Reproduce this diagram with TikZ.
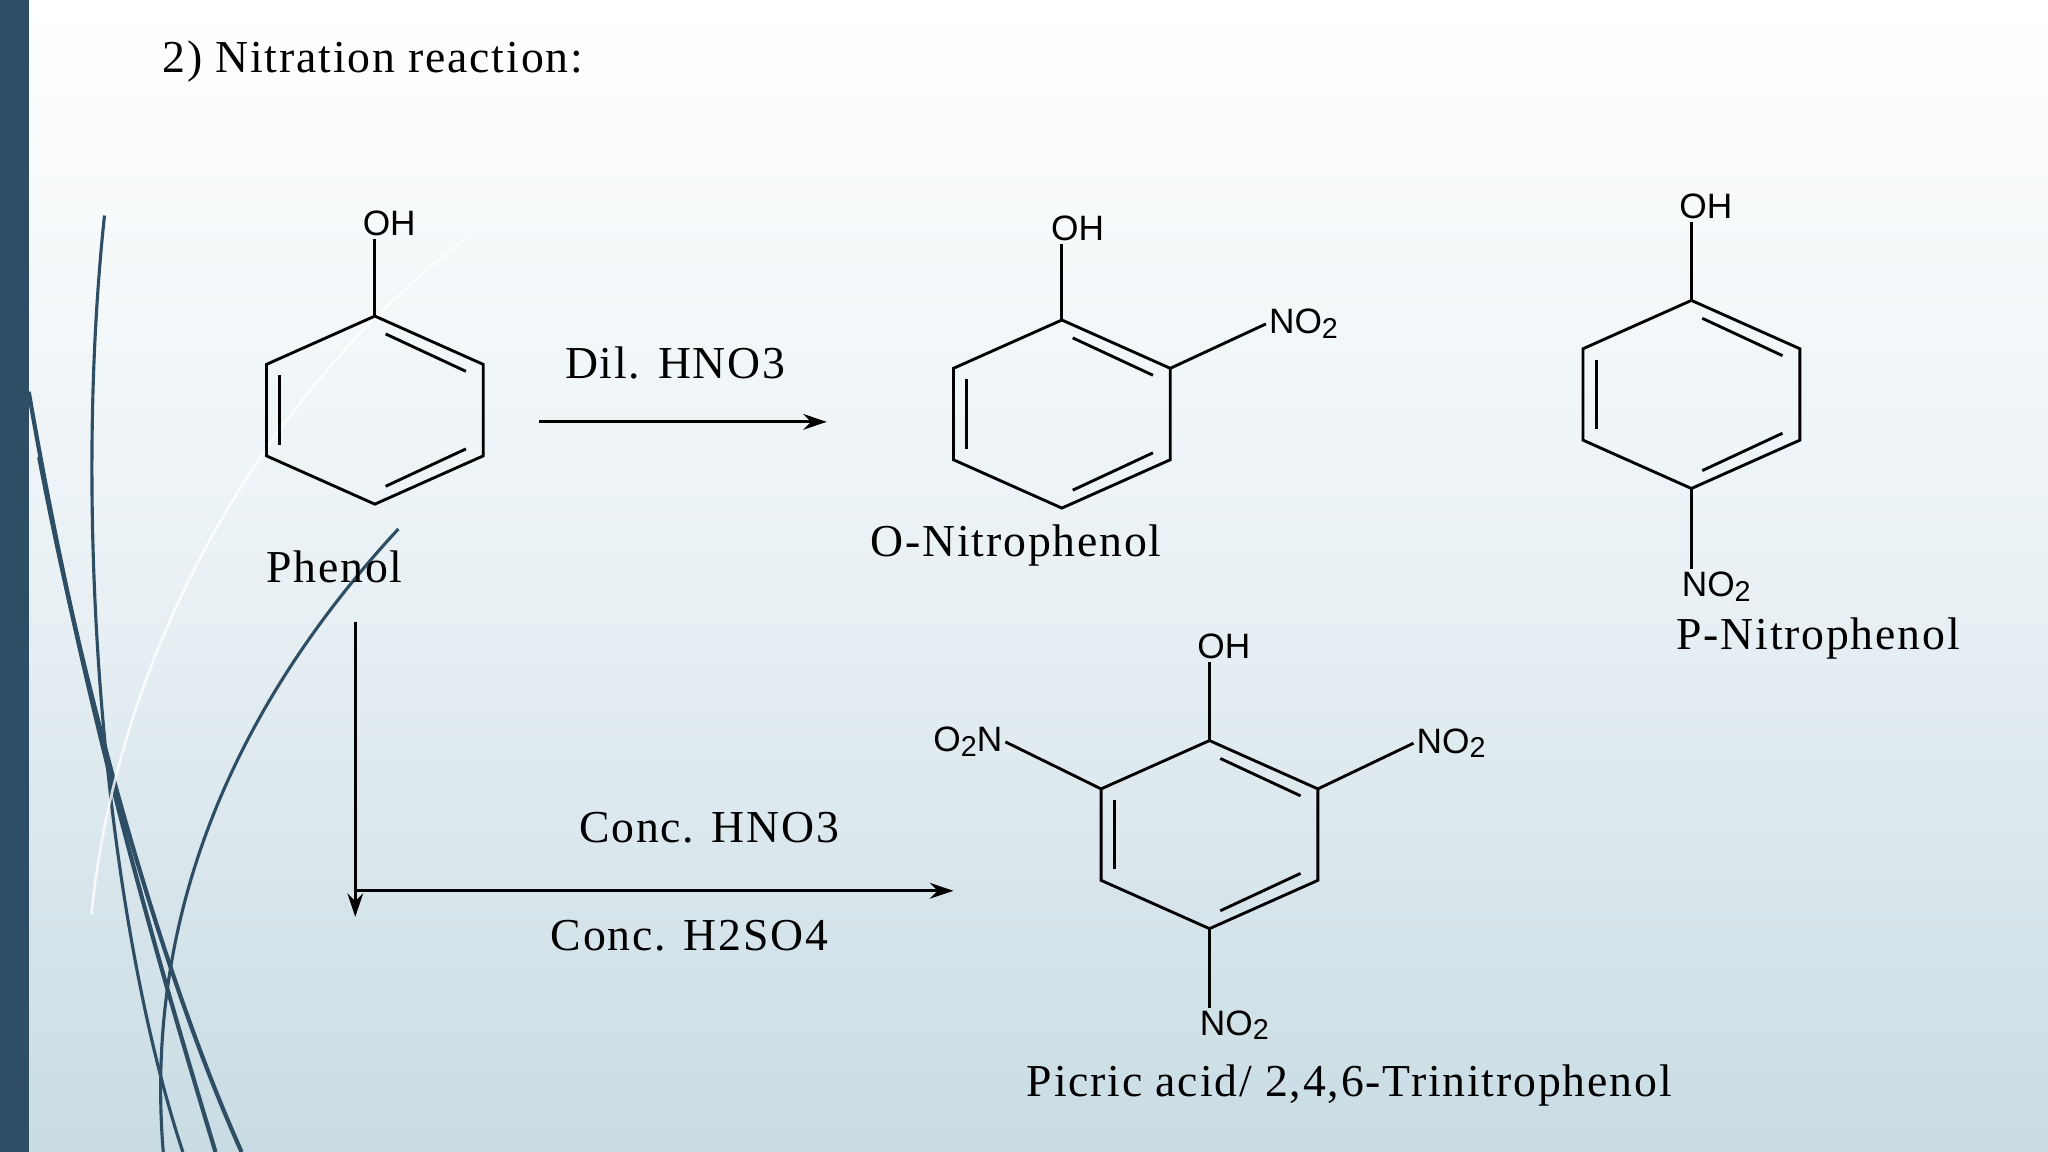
\documentclass[tikz,border=0pt]{standalone}
\usepackage{fontspec}
\setmainfont{Liberation Serif}[LetterSpace=4]
\newfontfamily\chemsans{Liberation Sans}
\usetikzlibrary{arrows.meta,calc}
\definecolor{barc}{HTML}{2E4E66}
\definecolor{bgbot}{HTML}{C9DCE4}
\tikzset{
 bond/.style={line width=1.1pt,black},
 rxn/.style={line width=1.1pt,-{Stealth[length=9pt,width=6pt]}},
 lab/.style={font=\fontsize{17.5}{19}\selectfont,inner sep=0pt},
 chem/.style={font=\chemsans\fontsize{13.5}{15}\selectfont,inner sep=1pt},
 deco/.style={barc,line width=1.6pt}
}
\newcommand{\sub}[1]{\raisebox{-0.25ex}{\fontsize{11}{12}\selectfont #1}}
\newcommand{\ring}[3]{% name, cx, cy
 \coordinate (#1a) at (#2,#3-72);
 \coordinate (#1b) at (#2+83,#3-35);
 \coordinate (#1c) at (#2+83,#3+35);
 \coordinate (#1d) at (#2,#3+72);
 \coordinate (#1e) at (#2-83,#3+35);
 \coordinate (#1f) at (#2-83,#3-35);
 \draw[bond] (#1a)--(#1b)--(#1c)--(#1d)--(#1e)--(#1f)--cycle;
 \draw[bond] ($(#1a)!0.1!(#1b)+(0,10)$)--($(#1a)!0.9!(#1b)+(-5,9)$);
 \draw[bond] ($(#1c)!0.1!(#1d)+(-5,-9)$)--($(#1c)!0.9!(#1d)+(0,-10)$);
 \draw[bond] ($(#1e)!0.12!(#1f)+(10,0)$)--($(#1e)!0.88!(#1f)+(10,0)$);
}
\begin{document}
\begin{tikzpicture}[x=0.5pt,y=-0.5pt]
\useasboundingbox (0,0) rectangle (1568,882);
\shade[top color=white,bottom color=bgbot,middle color=white!60!bgbot] (0,0) rectangle (1568,882);
\fill[barc] (0,0) rectangle (22,882);
% decorative curves
\draw[deco] (22,300) .. controls (60,520) and (110,700) .. (165,882);
\draw[deco] (30,350) .. controls (70,560) and (130,760) .. (185,882);
\draw[deco,line width=1.2pt] (80,165) .. controls (55,400) and (80,700) .. (140,882);
\draw[deco,line width=1.2pt] (305,405) .. controls (180,540) and (110,700) .. (125,882);
\draw[white,line width=1pt,opacity=0.8] (360,180) .. controls (200,300) and (90,500) .. (70,700);
\node[lab,anchor=west] (title) at (124,47) {2) Nitration reaction:};
% phenol
\ring{p}{287}{314}
\node[chem] (pOH) at (298,171) {OH};
\draw[bond] (pa)--(pOH.south-|pa);
\node[lab] (pname) at (256,434) {Phenol};
% o-nitrophenol
\ring{o}{813}{317}
\node[chem] (oOH) at (825,175) {OH};
\draw[bond] (oa)--(oOH.south-|oa);
\node[chem] (oNO) at (998,248) {NO\sub{2}};
\draw[bond] (ob)--(oNO.west);
\node[lab] (oname) at (778,418) {O-Nitrophenol};
% p-nitrophenol
\ring{q}{1295}{302}
\node[chem] (qOH) at (1306,158) {OH};
\draw[bond] (qa)--(qOH.south-|qa);
\node[chem] (qNO) at (1314,449) {NO\sub{2}};
\draw[bond] (qd)--(qNO.north-|qd);
\node[lab] (qname) at (1392,489) {P-Nitrophenol};
% picric
\ring{r}{926}{639}
\node[chem] (rOH) at (937,495) {OH};
\draw[bond] (ra)--(rOH.south-|ra);
\node[chem] (rNO1) at (1111,569) {NO\sub{2}};
\draw[bond] (rb)--(rNO1.west);
\node[chem] (rNO2) at (741,568) {O\sub{2}N};
\draw[bond] (rf)--(rNO2.east);
\node[chem] (rNO3) at (945,785) {NO\sub{2}};
\draw[bond] (rd)--(rNO3.north-|rd);
\node[lab] (rname) at (1033,831) {Picric acid/ 2,4,6-Trinitrophenol};
% arrows
\coordinate (a1s) at (413,323); \coordinate (a1e) at (633,323);
\draw[rxn] (a1s)--(a1e);
\node[lab] (dil) at (517,278) {Dil. HNO3};
\coordinate (vs) at (272,476); \coordinate (ve) at (272,702);
\draw[rxn] (vs)--(ve);
\coordinate (hs) at (272,682); \coordinate (he) at (730,682);
\draw[rxn] (hs)--(he);
\node[lab] (c1) at (543,634) {Conc. HNO3};
\node[lab] (c2) at (528,716) {Conc. H2SO4};
\end{tikzpicture}
\end{document}
